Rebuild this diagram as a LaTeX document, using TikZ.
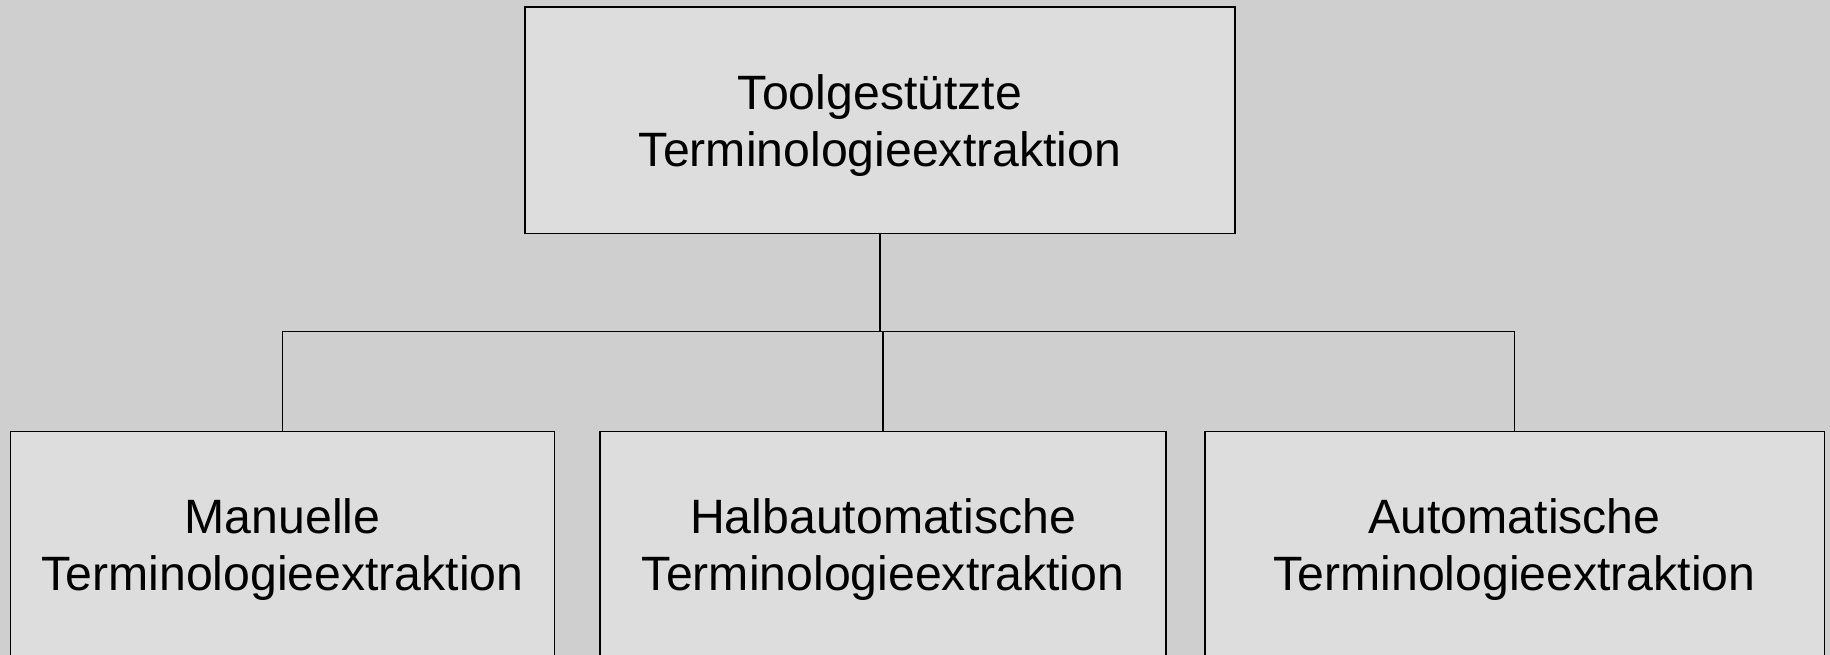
\documentclass[tikz,border=0pt]{standalone}
\usepackage{fontspec}
\setmainfont{Liberation Sans}
\definecolor{bggray}{HTML}{CFCFCF}
\definecolor{boxgray}{HTML}{DDDDDD}
\tikzset{
  box/.style={draw=black, fill=boxgray, line width=1.5pt, rectangle,
    inner sep=0pt, minimum height=226.5pt},
  caption/.style={align=center, inner sep=0pt, yshift=-5pt,
    font=\fontsize{48.2}{57}\selectfont},
  link/.style={draw=black, line width=1.4pt}
}
\begin{document}
\begin{tikzpicture}[x=1pt,y=-1pt]
  \clip (0,0) rectangle (1830,655);
  \fill[bggray] (0,0) rectangle (1830,655);

  % root
  \node[box, minimum width=710pt] (root) at (880,120.25) {};
  \node[caption] (rootText) at (root.center)
    {Toolgestützte\\Terminologieextraktion};

  % children
  \node[box, minimum width=544pt] (manual) at (282.5,544.5) {};
  \node[caption] (manualText) at (manual.center)
    {Manuelle\\Terminologieextraktion};
  \node[box, minimum width=566pt] (semi) at (883,544.5) {};
  \node[caption] (semiText) at (semi.center)
    {Halbautomatische\\Terminologieextraktion};
  \node[box, minimum width=619.5pt] (auto) at (1514.5,544.5) {};
  \node[caption] (autoText) at (auto.center)
    {Automatische\\Terminologieextraktion};

  % org-chart connectors
  \draw[link] (root.south) -- (root.south |- 0,331.5) coordinate (joint);
  \draw[link] (manual.north) -- (manual.north |- joint) -| (auto.north);
  \draw[link] (semi.north) -- (semi.north |- joint);
\end{tikzpicture}
\end{document}
